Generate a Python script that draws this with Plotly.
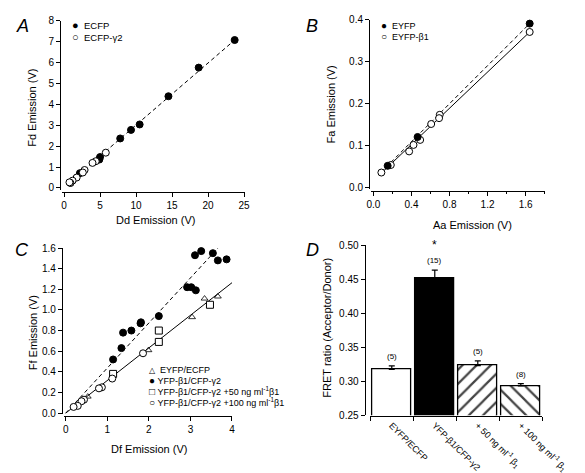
import plotly.graph_objects as go

W, H = 585, 473
FONT = "Liberation Sans, Arial, Helvetica, sans-serif"

# ---------------- Panel A data ----------------
a_ecfp_x = [23.7, 18.7, 14.5, 10.5, 9.3, 7.8, 5.0, 4.9, 2.2, 0.9]
a_ecfp_y = [7.08, 5.76, 4.39, 3.04, 2.78, 2.37, 1.48, 1.36, 0.71, 0.25]
a_ecfpg2_x = [5.8, 4.4, 3.95, 2.85, 2.6, 1.75, 1.18, 0.88, 0.75]
a_ecfpg2_y = [1.69, 1.28, 1.20, 0.86, 0.74, 0.50, 0.35, 0.24, 0.27]
a_fit_x = [0.57, 23.7]
a_fit_y = [0.21, 7.08]

# ---------------- Panel B data ----------------
b_eyfp_x = [1.643, 0.464, 0.149]
b_eyfp_y = [0.391, 0.120, 0.051]
b_eyfpb1_x = [1.643, 0.697, 0.690, 0.607, 0.491, 0.421, 0.375, 0.182, 0.083]
b_eyfpb1_y = [0.371, 0.173, 0.165, 0.151, 0.113, 0.101, 0.0855, 0.053, 0.035]
b_fit_dash_x = [0.08, 1.643]
b_fit_dash_y = [0.036, 0.391]
b_fit_solid_x = [0.08, 1.643]
b_fit_solid_y = [0.033, 0.371]

# ---------------- Panel C data ----------------
c_tri_x = [3.66, 3.34, 3.04, 1.99, 0.53]
c_tri_y = [1.13, 1.11, 0.93, 0.61, 0.16]
c_fill_x = [3.11, 3.26, 3.54, 3.66, 3.87, 2.92, 3.02, 3.13, 2.24, 1.81, 1.80, 1.58, 1.38, 1.34, 1.14]
c_fill_y = [1.53, 1.57, 1.55, 1.48, 1.49, 1.22, 1.22, 1.19, 0.94, 0.88, 0.87, 0.80, 0.78, 0.63, 0.52]
c_sq_x = [4.04, 3.47, 2.24, 2.24, 1.14]
c_sq_y = [1.28, 1.05, 0.80, 0.69, 0.38]
c_circ_x = [1.86, 1.12, 0.87, 0.80, 0.44, 0.38, 0.29, 0.19]
c_circ_y = [0.58, 0.335, 0.25, 0.24, 0.13, 0.115, 0.07, 0.06]
c_fit_dash_x = [0.0, 3.71]
c_fit_dash_y = [0.0, 1.62]
c_fit_solid_x = [0.0, 4.02]
c_fit_solid_y = [0.0, 1.27]

# ---------------- Panel D data ----------------
d_categories = ["EYFP/ECFP", "YFP-β1/CFP-γ2",
                "+ 50 ng ml<sup>-1</sup> β<sub>1</sub>",
                "+ 100 ng ml<sup>-1</sup> β<sub>1</sub>"]
d_values = [0.3173, 0.452, 0.323, 0.293]
d_errors = [0.0053, 0.0115, 0.007, 0.0034]
d_n_labels = ["(5)", "(15)", "(5)", "(8)"]

fig = go.Figure()

def px_x(p):
    return p / W

def px_y(p):
    return 1 - p / H

BLACK = "black"
line_dash = dict(color=BLACK, width=1, dash="4px,3px")
line_solid = dict(color=BLACK, width=1)
filled = dict(symbol="circle", size=7, color=BLACK, line=dict(color=BLACK, width=1))
opencirc = dict(symbol="circle", size=7, color="white", line=dict(color=BLACK, width=1))

def sc(x, y, xa, ya, **kw):
    fig.add_trace(go.Scatter(x=x, y=y, xaxis=xa, yaxis=ya, cliponaxis=False, **kw))

# Panel A
sc(a_fit_x, a_fit_y, "x", "y", mode="lines", line=line_dash)
sc(a_ecfp_x, a_ecfp_y, "x", "y", mode="markers", marker=filled)
sc(a_ecfpg2_x, a_ecfpg2_y, "x", "y", mode="markers", marker=opencirc)

# Panel B
sc(b_fit_dash_x, b_fit_dash_y, "x2", "y2", mode="lines", line=line_dash)
sc(b_fit_solid_x, b_fit_solid_y, "x2", "y2", mode="lines", line=line_solid)
sc(b_eyfpb1_x, b_eyfpb1_y, "x2", "y2", mode="markers", marker=opencirc)
sc(b_eyfp_x, b_eyfp_y, "x2", "y2", mode="markers", marker=filled)

# Panel C
sc(c_fit_dash_x, c_fit_dash_y, "x3", "y3", mode="lines", line=line_dash)
sc(c_fit_solid_x, c_fit_solid_y, "x3", "y3", mode="lines", line=line_solid)
sc(c_tri_x, c_tri_y, "x3", "y3", mode="markers",
   marker=dict(symbol="triangle-up-open", size=6, color=BLACK, line=dict(width=0.8)))
sc(c_fill_x, c_fill_y, "x3", "y3", mode="markers", marker=filled)
sc(c_sq_x, c_sq_y, "x3", "y3", mode="markers",
   marker=dict(symbol="square", size=7, color="white", line=dict(color=BLACK, width=1)))
sc(c_circ_x, c_circ_y, "x3", "y3", mode="markers", marker=opencirc)

# Panel D
fig.add_trace(go.Bar(
    x=d_categories, y=d_values, xaxis="x4", yaxis="y4", width=0.9,
    marker=dict(color=["white", "black", "white", "white"],
                line=dict(color=BLACK, width=1.3),
                pattern=dict(shape=["", "", "/", "\\"], fgcolor=BLACK, bgcolor="white",
                             fgopacity=1, size=10, solidity=0.22)),
    error_y=dict(type="data", array=d_errors, arrayminus=[0, 0, 0, 0], symmetric=False,
                 color=BLACK, thickness=1.2, width=3),
))

axis_common = dict(showline=True, linecolor=BLACK, linewidth=1, ticks="outside", ticklen=4,
                   tickwidth=1, tickcolor=BLACK, showgrid=False, zeroline=False,
                   tickfont=dict(family=FONT, size=10, color=BLACK), fixedrange=True)

fig.update_layout(
    width=W, height=H, margin=dict(l=0, r=0, t=0, b=0),
    paper_bgcolor="white", plot_bgcolor="white", showlegend=False,
    font=dict(family=FONT, color=BLACK),
    bargap=0,
    xaxis=dict(domain=[px_x(53), px_x(246)], range=[-0.26, 25.13], anchor="free",
               position=px_y(182.3), tickvals=[0, 5, 10, 15, 20, 25], **axis_common),
    yaxis=dict(domain=[px_y(180.5), px_y(7)], range=[-0.093, 8], anchor="free",
               position=px_x(50.7), tickvals=[0, 1, 2, 3, 4, 5, 6, 7, 8], **axis_common),
    xaxis2=dict(domain=[px_x(379), px_x(562.7)], range=[-0.027, 1.803], anchor="free",
                position=px_y(182), tickvals=[0, 0.4, 0.8, 1.2, 1.6], tickformat=".1f",
                minor=dict(dtick=0.2, tick0=0, ticks="outside", ticklen=2, tickcolor=BLACK),
                **axis_common),
    yaxis2=dict(domain=[px_y(180), px_y(6)], range=[-0.0054, 0.4], anchor="free",
                position=px_x(377), tickvals=[0, 0.1, 0.2, 0.3, 0.4], tickformat=".1f", **axis_common),
    xaxis3=dict(domain=[px_x(55), px_x(232.3)], range=[-0.039, 4.0], anchor="free",
                position=px_y(412.3), tickvals=[0, 1, 2, 3, 4], **axis_common),
    yaxis3=dict(domain=[px_y(410.5), px_y(240.1)], range=[-0.0094, 1.6], anchor="free",
                position=px_x(52.7), tickvals=[0, 0.2, 0.4, 0.6, 0.8, 1.0, 1.2, 1.4, 1.6],
                tickformat=".1f", **axis_common),
    xaxis4=dict(domain=[px_x(378.3), px_x(560)], range=[-0.5, 3.5], anchor="free",
                position=px_y(412.3), type="category", tickson="boundaries", tickangle=45,
                **{**axis_common, "tickfont": dict(family=FONT, size=9, color=BLACK)}),
    yaxis4=dict(domain=[px_y(411.7), px_y(237.3)], range=[0.25, 0.5], anchor="free",
                position=px_x(372.3), tickvals=[0.25, 0.30, 0.35, 0.40, 0.45, 0.50],
                tickformat=".2f", **axis_common),
)

ann = []

def text_ann(x, y, text, size=11, angle=0, xanchor="center", yanchor="middle", italic=False):
    ann.append(dict(x=px_x(x), y=px_y(y), xref="paper", yref="paper", text=text, showarrow=False,
                    textangle=angle, xanchor=xanchor, yanchor=yanchor,
                    font=dict(family=FONT, size=size, color=BLACK,
                              style="italic" if italic else "normal")))

# panel letters
text_ann(11, 12, "A", size=18, italic=True)
text_ann(317, 12, "B", size=18, italic=True)
text_ann(11, 242, "C", size=18, italic=True)
text_ann(317, 242, "D", size=18, italic=True)

# axis titles
text_ann(151.7, 211.7, "Dd Emission (V)")
text_ann(21.7, 96.7, "Fd Emission (V)", angle=-90)
text_ann(486.7, 216.7, "Aa Emission (V)")
text_ann(336.7, 93, "Fa Emission (V)", angle=-90)
text_ann(145, 446.7, "Df Emission (V)")
text_ann(21.7, 327, "Ff Emission (V)", angle=-90)
text_ann(331.7, 321.7, "FRET ratio (Acceptor/Donor)", angle=-90)

# legends
def sym(s, size):
    return '<span style="font-size:%dpx">%s</span>' % (size, s)

text_ann(61, 11.7, sym("●", 11) + "  ECFP", size=9.5, xanchor="left")
text_ann(61, 24, sym("○", 11) + "  ECFP-γ2", size=9.5, xanchor="left")
text_ann(387.5, 11.7, sym("●", 10) + "  EYFP", size=9, xanchor="left")
text_ann(387.5, 22.7, sym("○", 10) + "  EYFP-β1", size=9, xanchor="left")
text_ann(143, 365, sym("△", 8) + "  EYFP/ECFP", size=9, xanchor="left")
text_ann(142.5, 375.7, sym("●", 10) + " YFP-β1/CFP-γ2", size=9, xanchor="left")
text_ann(142.5, 386.7, sym("□", 10) + " YFP-β1/CFP-γ2 +50 ng ml<sup>-1</sup>β1", size=9, xanchor="left")
text_ann(142.5, 397.7, sym("○", 10) + " YFP-β1/CFP-γ2 +100 ng ml<sup>-1</sup>β1", size=9, xanchor="left")

# bar n labels
for i, (v, e, lab) in enumerate(zip(d_values, d_errors, d_n_labels)):
    ann.append(dict(x=d_categories[i], y=v + e, xref="x4", yref="y4", text=lab, showarrow=False,
                    yanchor="bottom", yshift=3, font=dict(family=FONT, size=8, color=BLACK)))
ann.append(dict(x=d_categories[1], y=d_values[1] + d_errors[1], xref="x4", yref="y4", text="*",
                showarrow=False, yanchor="bottom", yshift=16, font=dict(family=FONT, size=12, color=BLACK)))

fig.update_layout(annotations=ann)
fig.write_html("out.html")
